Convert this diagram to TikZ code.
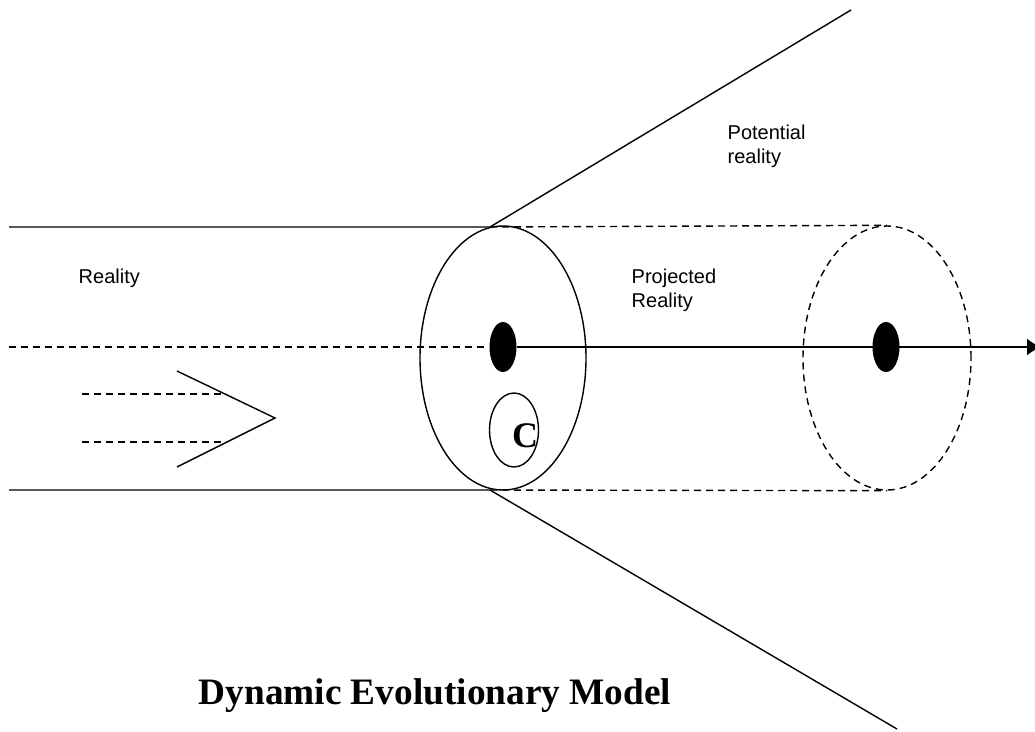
\documentclass[tikz,border=0pt]{standalone}
\usepackage{fontspec}
\setmainfont{Liberation Serif}
\newfontfamily\labelfont{Liberation Sans}
\usepackage{tikz}
\usetikzlibrary{arrows.meta, shapes.geometric, positioning}

\begin{document}
\begin{tikzpicture}[x=1pt, y=-1pt, >={Latex[length=14pt,width=17pt]}, line width=1.4pt,
    dashline/.style={dash pattern=on 7pt off 5pt},
    lbl/.style={font=\labelfont\fontsize{20}{24.5}\selectfont, align=left, inner sep=0},
    ring/.style={ellipse, draw, inner sep=0},
    blob/.style={ellipse, fill, minimum width=27pt, minimum height=50pt, inner sep=0}]
    \useasboundingbox (0,0) rectangle (1035,731);

    % Các vòng và chấm
    \node[ring, minimum width=166pt, minimum height=264pt] (gate) at (503,358) {};
    \node[ring, dashline, minimum width=168pt, minimum height=264pt] (future) at (887,358) {};
    \node[blob] (nowdot) at (503,347) {};
    \node[blob] (futdot) at (886,347) {};
    \node[ring, minimum width=49pt, minimum height=74pt] (cring) at (514,430) {};
    \node[font=\bfseries\fontsize{36}{36}\selectfont, inner sep=0] (cmark) at (525,436) {C};

    % Các mốc
    \coordinate (tl) at (9,227);
    \coordinate (ml) at (9,347);
    \coordinate (bl) at (9,490);
    \coordinate (ttop) at (490,227);
    \coordinate (tbot) at (490,490);
    \coordinate (uend) at (851,10);
    \coordinate (lend) at (897,729);
    \coordinate (aend) at (1041,347);

    % Ống thực tại và nón
    \draw (tl) -- (ttop) -- (uend);
    \draw (bl) -- (tbot) -- (lend);
    \draw[dashline] (ttop) -- (future.north);
    \draw[dashline] (tbot) -- (future.south);
    \draw[dashline] (ml) -- (nowdot.west);
    \draw[->] (nowdot.east) -- (aend);

    % Mũi tên rỗng
    \coordinate (vtop) at (177,371);
    \coordinate (vtip) at (275,418);
    \coordinate (vbot) at (177,467);
    \draw (vtop) -- (vtip) -- (vbot);
    \foreach \y in {394,442} {
        \draw[dashline] (82,\y) -- (226,\y);
    }

    % Chữ
    \node[lbl, anchor=base west] (real) at (78,283) {Reality};
    \node[lbl, anchor=north west] (proj) at (631,268) {Projected\\Reality};
    \node[lbl, anchor=north west] (pot) at (727,124) {Potential\\reality};
    \node[font=\bfseries\fontsize{37.3}{40}\selectfont, anchor=base west, inner sep=0] (title) at (198,704) {Dynamic Evolutionary Model};

\end{tikzpicture}
\end{document}
